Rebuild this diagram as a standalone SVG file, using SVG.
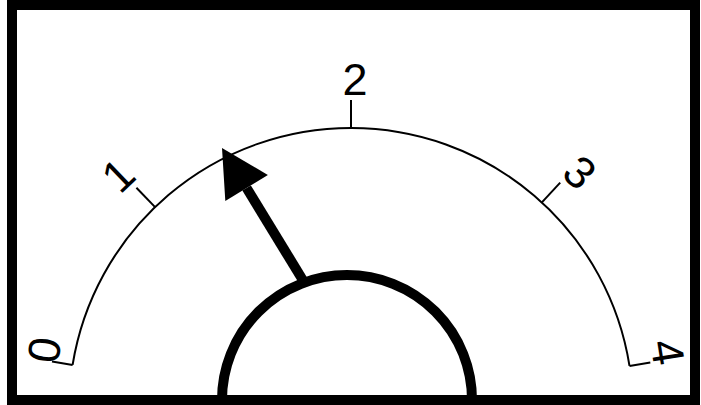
<svg xmlns="http://www.w3.org/2000/svg" width="701" height="405" viewBox="0 0 701 405">
<style>
.lbl{font-family:"Liberation Sans",Arial,sans-serif;font-size:45px;fill:#000;text-anchor:middle}
.thin{fill:none;stroke:#000;stroke-width:2}
</style>
<rect x="0" y="0" width="701" height="405" fill="#fff"/>
<g id="frame"><rect x="12" y="5" width="683" height="395" fill="none" stroke="#000" stroke-width="10"/></g>
<g id="scale">
<path class="thin" d="M 72.6 364.9 A 282 282 0 0 1 629.5 365.9"/>
<line class="thin" x1="72.6" y1="364.9" x2="52" y2="361.6"/>
<line class="thin" x1="155.1" y1="207.1" x2="136.4" y2="187.7"/>
<line class="thin" x1="351" y1="128" x2="351" y2="100"/>
<line class="thin" x1="541.9" y1="202.4" x2="560.2" y2="182.6"/>
<line class="thin" x1="629.5" y1="365.9" x2="650.3" y2="362.6"/>
</g>
<g id="labels">
<text class="lbl" transform="translate(44,350) rotate(-81)" y="16">0</text>
<text class="lbl" transform="translate(118,175) rotate(-44)" y="16">1</text>
<text class="lbl" transform="translate(355,79)" y="16">2</text>
<text class="lbl" transform="translate(580,172) rotate(43)" y="16">3</text>
<text class="lbl" transform="translate(668,352) rotate(81)" y="16">4</text>
</g>
<g id="connectors">
<line x1="304" y1="282" x2="246.6" y2="188" stroke="#000" stroke-width="10"/>
<polygon points="222,148 267.9,174.9 225.3,201.1" fill="#000"/>
</g>
<g id="hub"><path d="M 222 400 A 125 125 0 0 1 472 400" fill="none" stroke="#000" stroke-width="10"/></g>
</svg>
